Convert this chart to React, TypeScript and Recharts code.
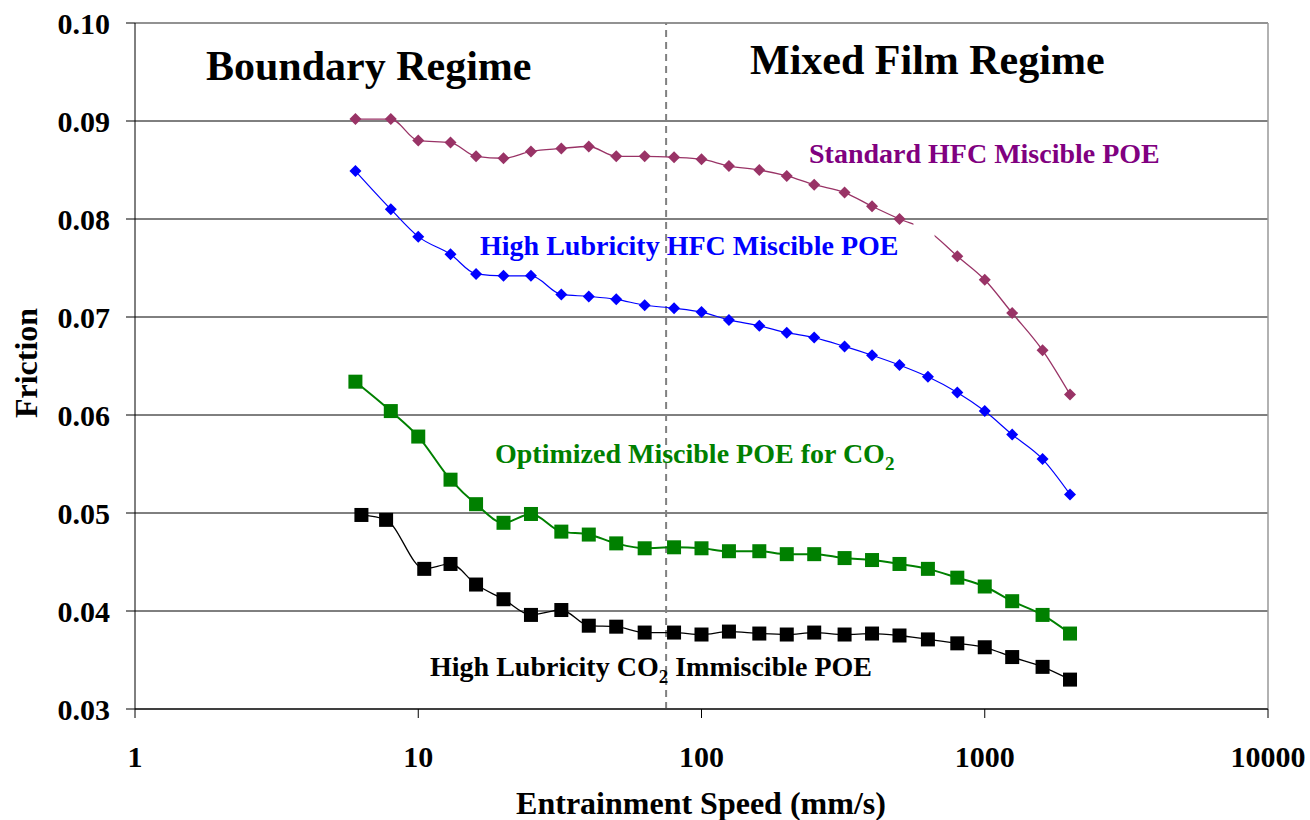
import React from "react";
import {
  ComposedChart,
  Line,
  XAxis,
  YAxis,
  CartesianGrid,
  ReferenceLine,
  ReferenceArea,
} from "recharts";

// entrainment speed (mm/s)
const speeds = [6, 8, 10, 13, 16, 20, 25, 32, 40, 50, 63, 80, 100, 125, 160, 200, 250, 320, 400, 500, 630, 800, 1000, 1250, 1600, 2000];
const immiscibleSpeeds = [6.3, 7.7, 10.5, 13, 16, 20, 25, 32, 40, 50, 63, 80, 100, 125, 160, 200, 250, 320, 400, 500, 630, 800, 1000, 1250, 1600, 2000];

// friction coefficients
const standardHfc = [0.0902, 0.0902, 0.088, 0.0878, 0.0864, 0.0862, 0.0869, 0.0872, 0.0874, 0.0864, 0.0864, 0.0863, 0.0861, 0.0854, 0.085, 0.0844, 0.0835, 0.0827, 0.0813, 0.08, 0.0788, 0.0762, 0.0738, 0.0704, 0.0666, 0.0621];
const highLubHfc = [0.0849, 0.081, 0.0782, 0.0764, 0.0744, 0.0742, 0.0742, 0.0723, 0.0721, 0.0718, 0.0712, 0.0709, 0.0705, 0.0697, 0.0691, 0.0684, 0.0679, 0.067, 0.0661, 0.0651, 0.0639, 0.0623, 0.0604, 0.058, 0.0555, 0.0519];
const optimizedCo2 = [0.0634, 0.0604, 0.0578, 0.0534, 0.0509, 0.049, 0.0499, 0.0481, 0.0478, 0.0469, 0.0464, 0.0465, 0.0464, 0.0461, 0.0461, 0.0458, 0.0458, 0.0454, 0.0452, 0.0448, 0.0443, 0.0434, 0.0425, 0.041, 0.0396, 0.0377];
const highLubCo2 = [0.0498, 0.0493, 0.0443, 0.0448, 0.0427, 0.0412, 0.0396, 0.0401, 0.0385, 0.0384, 0.0378, 0.0378, 0.0376, 0.0379, 0.0377, 0.0376, 0.0378, 0.0376, 0.0377, 0.0375, 0.0371, 0.0367, 0.0363, 0.0353, 0.0343, 0.033];

const xTicks = [1, 10, 100, 1000, 10000];
const yTicks = [0.03, 0.04, 0.05, 0.06, 0.07, 0.08, 0.09, 0.1];

const toRows = (xs: number[], ys: number[]) => xs.map((speed, i) => ({ speed, friction: ys[i] }));

const FONT = '"Liberation Serif", "Times New Roman", serif';

const diamond = (color: string, r: number) => (p: any) => (
  <polygon
    key={`d-${p.index}`}
    points={`${p.cx},${p.cy - r} ${p.cx + r},${p.cy} ${p.cx},${p.cy + r} ${p.cx - r},${p.cy}`}
    fill={color}
  />
);

const square = (color: string, s: number) => (p: any) => (
  <rect key={`s-${p.index}`} x={p.cx - s / 2} y={p.cy - s / 2} width={s} height={s} fill={color} />
);

const tickStyle = { fontSize: 30, fontWeight: 700, fill: "#000", fontFamily: FONT };

export default function App() {
  return (
    <div style={{ position: "absolute", left: 0, top: 0, width: 1310, height: 820, background: "#fff" }}>
      <ComposedChart width={1310} height={820} margin={{ top: 23, right: 42, left: 0, bottom: 0 }}>
        <CartesianGrid vertical={false} stroke="#000" strokeWidth={1} />
        <XAxis
          dataKey="speed"
          type="number"
          scale="log"
          domain={[1, 10000]}
          ticks={xTicks}
          allowDataOverflow
          height={111}
          tickSize={9}
          tickMargin={28}
          tick={tickStyle}
          tickFormatter={(v: number) => String(v)}
          stroke="#000"
        />
        <YAxis
          type="number"
          domain={[0.03, 0.1]}
          ticks={yTicks}
          width={135}
          tickSize={9}
          tickMargin={16}
          tick={tickStyle}
          tickFormatter={(v: number) => v.toFixed(2)}
          stroke="#000"
        />
        <ReferenceLine y={0.1} stroke="#999" strokeWidth={1.5} />
        <ReferenceLine x={10000} stroke="#999" strokeWidth={1.5} />
        <ReferenceLine x={75} stroke="#808080" strokeWidth={2} strokeDasharray="7 5" />
        <Line
          data={toRows(speeds, standardHfc)}
          dataKey="friction"
          type="monotone"
          stroke="#993366"
          strokeWidth={1.3}
          dot={diamond("#993366", 6)}
          activeDot={false}
          isAnimationActive={false}
        />
        <Line
          data={toRows(speeds, highLubHfc)}
          dataKey="friction"
          type="monotone"
          stroke="#0000ff"
          strokeWidth={1.2}
          dot={diamond("#0000ff", 6)}
          activeDot={false}
          isAnimationActive={false}
        />
        <Line
          data={toRows(speeds, optimizedCo2)}
          dataKey="friction"
          type="monotone"
          stroke="#008000"
          strokeWidth={2}
          dot={square("#008000", 14)}
          activeDot={false}
          isAnimationActive={false}
        />
        <Line
          data={toRows(immiscibleSpeeds, highLubCo2)}
          dataKey="friction"
          type="monotone"
          stroke="#000"
          strokeWidth={1.3}
          dot={square("#000", 14)}
          activeDot={false}
          isAnimationActive={false}
        />
        {/* white label box in the original hides part of the standard HFC curve */}
        <ReferenceArea
          x1={560}
          x2={665}
          y1={0.0776}
          y2={0.0797}
          fill="#fff"
          fillOpacity={1}
          stroke="none"
          {...({ zIndex: 2000 } as any)}
        />
      </ComposedChart>
      <svg
        width={1310}
        height={820}
        style={{ position: "absolute", left: 0, top: 0, pointerEvents: "none" }}
        fontFamily={FONT}
        fontWeight={700}
      >
        <text x={206} y={80} fontSize={42} fill="#000">Boundary Regime</text>
        <text x={750} y={74} fontSize={42} fill="#000">Mixed Film Regime</text>
        <text x={809} y={163} fontSize={28} fill="#800080">Standard HFC Miscible POE</text>
        <text x={480} y={255} fontSize={28} fill="#0000ff">High Lubricity HFC Miscible POE</text>
        <text x={495} y={463} fontSize={28} fill="#008000">
          Optimized Miscible POE for CO<tspan dy={7} fontSize={19}>2</tspan>
        </text>
        <text x={430} y={676} fontSize={28} fill="#000">
          High Lubricity CO<tspan dy={7} fontSize={19}>2</tspan>
          <tspan dy={-7}> Immiscible POE</tspan>
        </text>
        <text x={701} y={814} fontSize={32} fill="#000" textAnchor="middle">Entrainment Speed (mm/s)</text>
        <text x={37} y={363} fontSize={32} fill="#000" textAnchor="middle" transform="rotate(-90 37 363)">Friction</text>
      </svg>
    </div>
  );
}
